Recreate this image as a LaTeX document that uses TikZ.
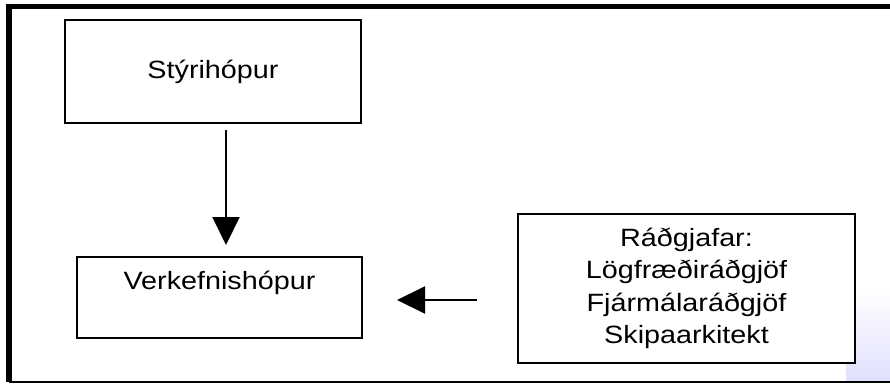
\documentclass[tikz,border=0pt]{standalone}
\usepackage{fontspec}
\setmainfont{Liberation Sans}[FakeStretch=1.15]
\usetikzlibrary{positioning,arrows.meta,fadings}

\begin{document}
\begin{tikzpicture}[x=1pt,y=-1pt]

\tikzstyle{groupbox}=[rectangle,draw=black,line width=1.6pt,inner sep=0pt,outer sep=0pt,fill=white,font=\fontsize{25pt}{32.3pt}\selectfont]
\tikzstyle{grouptext}=[inner sep=0pt,font=\fontsize{25pt}{32.3pt}\selectfont]
\tikzstyle{flow}=[line width=2pt,-{Triangle[length=28pt,width=27pt]}]

\useasboundingbox (0,0) rectangle (890,385);
\fill[blue!12!white,path fading=north] (846,288) rectangle (890,381);
\draw[line width=5.5pt] (890,6.5) -- (9,6.5) -- (9,382);
\draw[line width=1.4pt] (9,382) -- (890,382);

\node (styr) [groupbox,minimum width=296pt,minimum height=103pt] at (213,71.5) {St\'yrih\'opur};
\node (verk) [groupbox,minimum width=285pt,minimum height=81pt] at (219.5,297.5) {};
\node (verktext) [grouptext,anchor=base] at ([yshift=-32pt]verk.north) {Verkefnish\'opur};
\node (rad) [groupbox,align=center,minimum width=337pt,minimum height=149pt] at (686.5,288.5) {R\'a\dh gjafar:\\L\"ogfr\ae\dh ir\'a\dh gj\"of\\Fj\'arm\'alar\'a\dh gj\"of\\Skipaarkitekt};

\coordinate (downx) at (226,0);
\coordinate (lefty) at (0,300);
\draw[flow,shorten <=7pt,shorten >=12pt] (styr.south -| downx) -- (verk.north -| downx);
\draw[flow,shorten <=41pt,shorten >=35pt] (rad.west |- lefty) -- (verk.east |- lefty);
\end{tikzpicture}
\end{document}
